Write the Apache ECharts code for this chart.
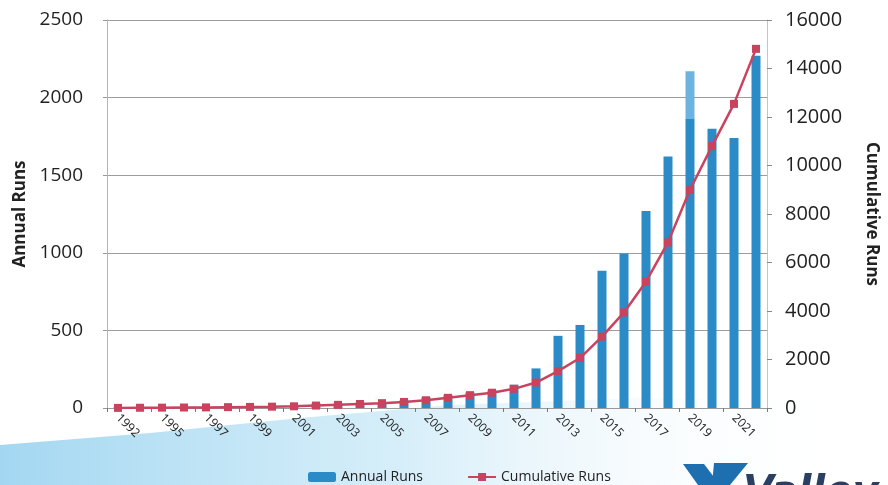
<!DOCTYPE html>
<html>
<head>
<meta charset="utf-8">
<script src="https://cdn.jsdelivr.net/npm/echarts@6/dist/echarts.min.js"></script>
<style>
  html, body { margin: 0; padding: 0; background: #ffffff; }
  #chart { width: 888px; height: 485px; }
</style>
</head>
<body>
<div id="chart"></div>
<script>
// Categories (1993 is not on the chart)
const years = [
  "1992", "1994", "1995", "1996", "1997", "1998", "1999", "2000", "2001", "2002",
  "2003", "2004", "2005", "2006", "2007", "2008", "2009", "2010", "2011", "2012",
  "2013", "2014", "2015", "2016", "2017", "2018", "2019", "2020", "2021", "2022"
];

// Annual runs
const annualRuns = [
  5, 5, 5, 5, 5, 10, 10, 10, 15, 30,
  30, 35, 35, 50, 70, 85, 100, 115, 150, 255,
  465, 535, 885, 995, 1270, 1620, 2170, 1800, 1740, 2270
];

// Cumulative runs
const cumulativeRuns = [
  5, 10, 15, 20, 25, 35, 45, 55, 70, 100,
  130, 165, 200, 250, 320, 420, 530, 630, 790, 1050,
  1520, 2060, 2940, 3940, 5210, 6830, 9000, 10800, 12540, 14810
];

const BAR_BLUE = "#2a8bc6";
const BAR_LIGHT = "#6cb3e0";
const LINE_RED = "#c9435e";

const chart = echarts.init(document.getElementById("chart"));

// The 2019 bar has a lighter top part in the picture
const barData = annualRuns.map((v, i) => {
  if (years[i] !== "2019") return v;
  const split = (v - 1860) / v;
  return {
    value: v,
    itemStyle: {
      color: new echarts.graphic.LinearGradient(0, 0, 0, 1, [
        { offset: 0, color: BAR_LIGHT },
        { offset: split, color: BAR_LIGHT },
        { offset: split, color: BAR_BLUE },
        { offset: 1, color: BAR_BLUE },
      ]),
    },
  };
});

chart.setOption({
  backgroundColor: "#ffffff",
  textStyle: { fontFamily: "Open Sans" },
  animation: false,
  graphic: [
    {
      // light blue swoosh in the slide background
      type: "polygon",
      z: -10,
      shape: {
        points: [[0, 445], [150, 433], [300, 418], [450, 405], [640, 398], [888, 402], [888, 485], [0, 485]],
      },
      style: {
        fill: new echarts.graphic.LinearGradient(0, 0, 1, 0, [
          { offset: 0, color: "rgba(140,205,238,0.8)" },
          { offset: 0.45, color: "rgba(180,224,244,0.55)" },
          { offset: 0.75, color: "rgba(235,245,250,0.3)" },
          { offset: 1, color: "rgba(255,255,255,0)" },
        ]),
      },
    },
    {
      // Valley logo mark, cut off at the bottom edge
      type: "polygon",
      z: -5,
      shape: { points: [[683, 464], [704, 464], [720, 485], [698, 485]] },
      style: { fill: "#1d6fb0" },
    },
    {
      type: "polygon",
      z: -5,
      shape: { points: [[714, 463], [748, 463], [730, 485], [712, 485]] },
      style: { fill: "#1d6fb0" },
    },
    {
      type: "text",
      z: -5,
      left: 743,
      top: 474,
      style: {
        text: "Valley",
        font: "italic bold 40px 'DejaVu Sans'",
        fill: "#2b3f63",
      },
    },
  ],
  legend: {
    top: 465,
    left: 303,
    itemWidth: 28,
    itemHeight: 10,
    itemGap: 44,
    textStyle: { fontSize: 14, color: "#222" },
    data: ["Annual Runs", "Cumulative Runs"],
  },
  grid: { left: 107, right: 113, top: 20, bottom: 77 },
  xAxis: {
    type: "category",
    data: years,
    axisLine: { lineStyle: { color: "#9a9a9a" } },
    axisTick: { show: true, length: 4, lineStyle: { color: "#777" } },
    axisLabel: {
      interval: 1,
      rotate: -45,
      fontSize: 12,
      color: "#222",
      margin: 8,
    },
  },
  yAxis: [
    {
      type: "value",
      min: 0,
      max: 2500,
      interval: 500,
      name: "Annual Runs",
      nameLocation: "middle",
      nameGap: 76,
      nameTextStyle: { fontSize: 17, fontWeight: "bold", color: "#222" },
      axisLine: { show: true, lineStyle: { color: "#b5b5b5" } },
      axisTick: { show: true, length: 4, lineStyle: { color: "#999" } },
      axisLabel: { fontSize: 19, color: "#222", margin: 24, formatter: (v) => String(v) },
      splitLine: { lineStyle: { color: "#9c9c9c", width: 1 } },
    },
    {
      type: "value",
      min: 0,
      max: 16000,
      interval: 2000,
      name: "Cumulative Runs",
      nameLocation: "middle",
      nameRotate: -90,
      nameGap: 96,
      nameTextStyle: { fontSize: 17, fontWeight: "bold", color: "#222" },
      axisLine: { show: true, lineStyle: { color: "#c4c4c4" } },
      axisTick: { show: true, length: 5, lineStyle: { color: "#888" } },
      axisLabel: { fontSize: 20, color: "#222", margin: 18, formatter: (v) => String(v) },
      splitLine: { show: false },
    },
  ],
  series: [
    {
      name: "Annual Runs",
      type: "bar",
      yAxisIndex: 0,
      barWidth: 9,
      itemStyle: { color: BAR_BLUE },
      data: barData,
    },
    {
      name: "Cumulative Runs",
      type: "line",
      yAxisIndex: 1,
      symbol: "rect",
      symbolSize: 8,
      lineStyle: { color: LINE_RED, width: 2.5 },
      itemStyle: { color: LINE_RED },
      data: cumulativeRuns,
    },
  ],
});
</script>
</body>
</html>
